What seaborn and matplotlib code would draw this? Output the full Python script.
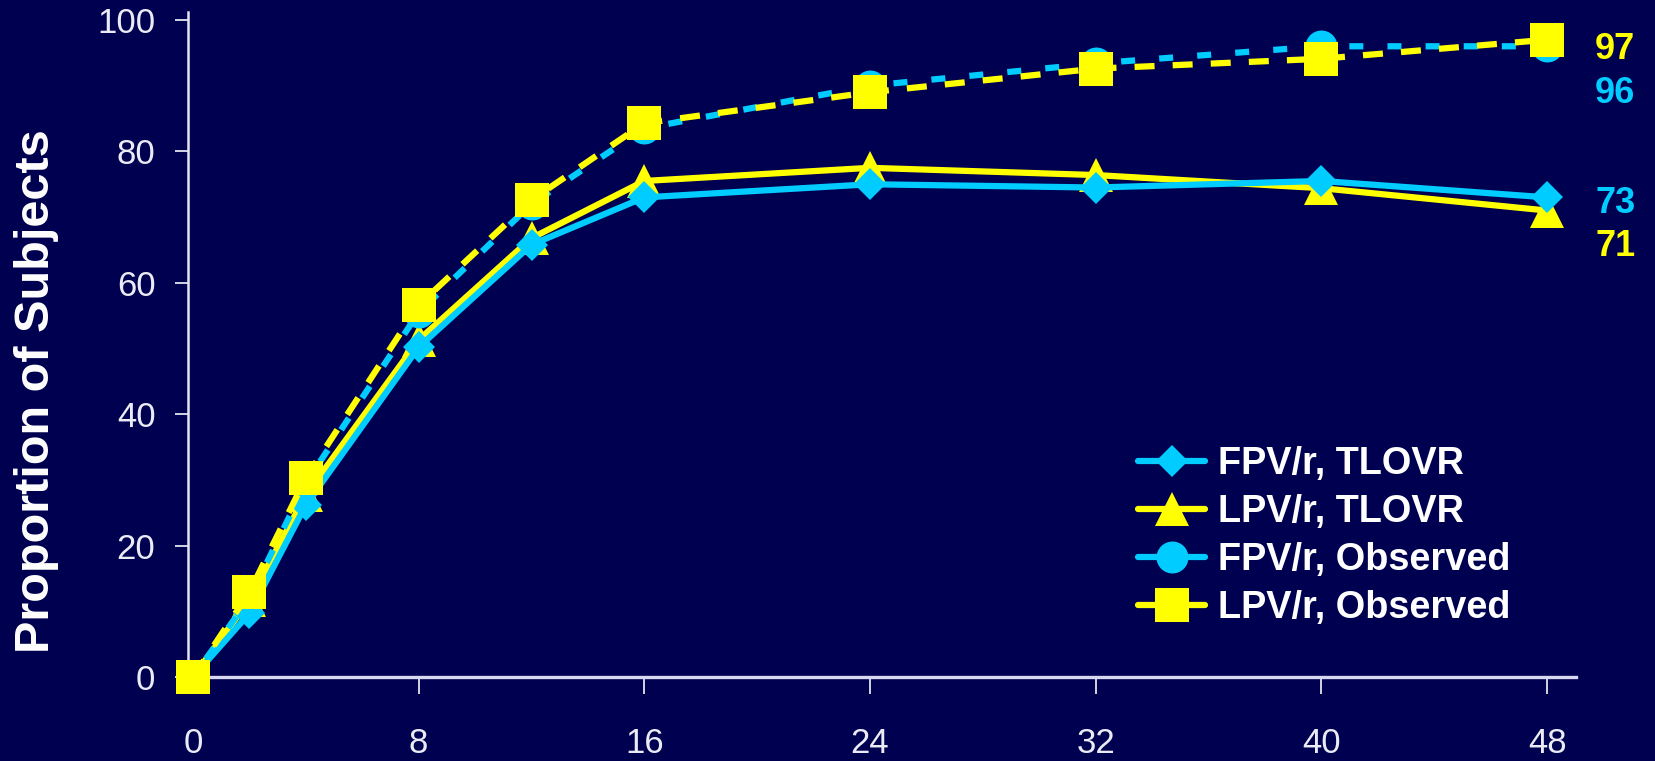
import matplotlib
matplotlib.use("Agg")
import matplotlib.pyplot as plt
from matplotlib.lines import Line2D
import seaborn as sns

# Response over time (weeks) for the two regimens, two analysis methods
weeks = [0, 2, 4, 8, 12, 16, 24, 32, 40, 48]
fpv_tlovr = [0, 9.7, 26.2, 50.2, 65.8, 73, 75, 74.5, 75.5, 73]
lpv_tlovr = [0, 11.7, 27.7, 51.3, 66.8, 75.5, 77.5, 76.4, 74.4, 71]
fpv_observed = [0, 12, 29.5, 55.5, 72, 83.5, 90, 93.4, 96, 96]
lpv_observed = [0, 12.9, 30.3, 56.6, 72.6, 84.3, 89, 92.6, 94.1, 97]

series_names = ["FPV/r, TLOVR", "LPV/r, TLOVR", "FPV/r, Observed", "LPV/r, Observed"]
x_ticks = [0, 8, 16, 24, 32, 40, 48]
y_ticks = [0, 20, 40, 60, 80, 100]
y_title = "Proportion of Subjects"

BG = "#000050"
CYAN = "#00ccff"
YELLOW = "#ffff00"
TEXT = "#ebebf5"

sns.set_theme(style="white")
plt.rcParams["font.family"] = ["Liberation Sans", "DejaVu Sans"]

W, H = 1656, 761
fig = plt.figure(figsize=(W / 100, H / 100), dpi=100, facecolor=BG)
ax = fig.add_axes([188 / W, 1 - 677 / H, (1576 - 188) / W, (677 - 12) / H])
ax.set_facecolor(BG)

LW = 4.5
yellow_dash = (0, (3.2, 2.9))
cyan_dash = (2.56, (2.24, 3.86))

layers = [
    (lpv_tlovr, YELLOW, "^", 24, "-", 3),
    (fpv_tlovr, CYAN, "D", 16.5, "-", 4),
    (fpv_observed, CYAN, "o", 23, cyan_dash, 5),
    (lpv_observed, YELLOW, "s", 25, yellow_dash, 6),
]
for vals, color, marker, ms, ls, z in layers:
    sns.lineplot(x=weeks, y=vals, ax=ax, color=color, marker=marker,
                 markersize=ms, linewidth=LW, linestyle=ls,
                 markeredgewidth=0, markeredgecolor=color,
                 dash_capstyle="butt", clip_on=False, zorder=z,
                 errorbar=None, legend=False, sort=False)

ax.set_xlim(-5 / 28.21, 1383 / 28.21)
ax.set_ylim(0, 665 / 6.57)
ax.set_xticks(x_ticks)
ax.set_yticks(y_ticks)
ax.set_xlabel("")
ax.set_ylabel("")

for side in ("top", "right"):
    ax.spines[side].set_visible(False)
ax.spines["left"].set_color("#e4e4f0")
ax.spines["left"].set_linewidth(1.8)
ax.spines["bottom"].set_color("#d8d8f0")
ax.spines["bottom"].set_linewidth(2.4)

ax.tick_params(axis="y", direction="out", length=9.4, width=1.3,
               color="#e4e4f0", pad=14, labelsize=25, labelcolor=TEXT, left=True)
ax.tick_params(axis="x", direction="out", length=12.2, width=1.3,
               color="#e4e4f0", pad=24, labelsize=25, labelcolor=TEXT, bottom=True)
ax.grid(False)

fig.text(37 / W, 1 - 391 / H, y_title, rotation=90, ha="center", va="center",
         fontsize=35, fontweight="bold", color="white")

# Week-48 values next to the end of each line
end_labels = [
    (lpv_observed[-1], YELLOW, -10),
    (fpv_observed[-1], CYAN, -47),
    (fpv_tlovr[-1], CYAN, -6),
    (lpv_tlovr[-1], YELLOW, -36),
]
for val, color, dy in end_labels:
    ax.annotate(f"{val:.0f}", xy=(weeks[-1], val), xytext=(48, dy),
                textcoords="offset pixels", ha="left", va="center",
                fontsize=26, fontweight="bold", color=color, annotation_clip=False)

handles = [
    Line2D([], [], color=CYAN, marker="D", markersize=16.5, linewidth=LW, markeredgewidth=0),
    Line2D([], [], color=YELLOW, marker="^", markersize=24, linewidth=LW, markeredgewidth=0),
    Line2D([], [], color=CYAN, marker="o", markersize=23, linewidth=LW, markeredgewidth=0),
    Line2D([], [], color=YELLOW, marker="s", markersize=25, linewidth=LW, markeredgewidth=0),
]
ax.legend(handles, series_names, loc="upper left",
          bbox_to_anchor=(1138 / W, 1 - 446 / H), bbox_transform=fig.transFigure,
          frameon=False, prop={"weight": "bold", "size": 27.3}, labelcolor="white",
          handlelength=1.77, handletextpad=0.34, labelspacing=0.32,
          borderpad=0, borderaxespad=0, numpoints=1)

fig.savefig("out.png", dpi=100, facecolor=BG)
